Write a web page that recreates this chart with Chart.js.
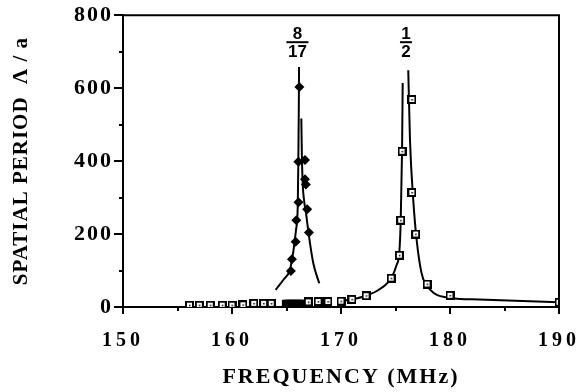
<!DOCTYPE html>
<html>
<head>
<title>Spatial period vs frequency</title>
<script src="https://cdn.jsdelivr.net/npm/chart.js"></script>
<style>
  body { margin: 0; background: #fff; }
</style>
</head>
<body>
<canvas id="periodChart" width="581" height="392"></canvas>
<script>
// 1/2 resonance, measured points (open squares)
var halfX = [156.1, 157.0, 158.0, 159.1, 160.0, 161.0, 162.0, 162.9, 163.6, 167.0, 167.9, 168.8, 170.0, 171.0, 172.3, 174.6, 175.35, 175.48, 175.6, 176.5, 176.5, 176.85, 177.9, 180.0, 190.0];
var halfY = [5, 5, 5, 5, 5, 6, 10, 10, 10, 14, 15, 15, 16, 21, 31, 79, 142, 238, 427, 569, 314, 200, 63, 32, 13];

// 8/17 resonance, measured points (filled diamonds)
var eightX = [166.18, 166.09, 166.7, 166.7, 166.78, 166.1, 166.9, 165.9, 165.84, 167.06, 165.5, 165.4];
var eightY = [603, 398, 403, 350, 336, 287, 268, 238, 179, 204, 131, 99];

// dense run of points along the floor under the 8/17 peak
var floorX = [164.9, 165.1, 165.3, 165.5, 165.7, 165.9, 166.1, 166.3, 166.5];
var floorY = [10, 10, 10, 10, 10, 10, 10, 10, 10];

// fitted curves
var halfLeftX = [170.0, 171.0, 172.3, 173.5, 174.6, 175.1, 175.35, 175.48, 175.6, 175.66];
var halfLeftY = [16, 21, 31, 48, 79, 115, 150, 238, 427, 614];
var halfRightX = [176.17, 176.33, 176.63, 176.94, 177.4, 178.2, 179.7, 182.0, 186.0, 190.0];
var halfRightY = [649, 457, 293, 184, 92, 47, 26, 21, 17, 13];
var eightLeftX = [164.0, 164.7, 165.3, 165.6, 165.87, 166.03, 166.08, 166.13, 166.15];
var eightLeftY = [47, 74, 101, 147, 211, 275, 384, 549, 658];
var eightRightX = [166.36, 166.42, 166.5, 166.62, 166.8, 166.95, 167.16, 167.46, 167.75, 168.01];
var eightRightY = [517, 400, 330, 290, 255, 220, 174, 120, 88, 65];

var xTickLabels = [150, 160, 170, 180, 190];
var yTickLabels = [0, 200, 400, 600, 800];

function toPoints(xs, ys) {
  var pts = [];
  for (var i = 0; i < xs.length; i++) {
    pts.push({ x: xs[i], y: ys[i] });
  }
  return pts;
}

// open square with a dot in the middle
var squareMark = document.createElement('canvas');
squareMark.width = 9;
squareMark.height = 9;
(function() {
  var c = squareMark.getContext('2d');
  c.fillStyle = '#fff';
  c.fillRect(0, 0, 9, 9);
  c.strokeStyle = '#000';
  c.lineWidth = 2;
  c.strokeRect(1, 1, 7, 7);
  c.fillStyle = '#000';
  c.fillRect(4, 4, 1.5, 1.5);
})();

function curve(xs, ys) {
  return {
    data: toPoints(xs, ys),
    showLine: true,
    borderColor: '#000',
    borderWidth: 2,
    pointRadius: 0,
    cubicInterpolationMode: 'monotone'
  };
}

// the old figure uses wide letter spacing, different per text
function spaced(scale, method, sp) {
  if (scale['_plain_' + method]) return;
  var orig = scale[method];
  scale['_plain_' + method] = orig;
  scale[method] = function() {
    var c = this.ctx;
    var prev = c.letterSpacing;
    c.letterSpacing = sp;
    orig.apply(this, arguments);
    c.letterSpacing = prev;
  };
}

var framePlugin = {
  id: 'frame',
  beforeDraw: function(chart) {
    spaced(chart.scales.x, 'drawLabels', '4px');
    spaced(chart.scales.x, 'drawTitle', '2px');
    spaced(chart.scales.y, 'drawLabels', '2px');
    spaced(chart.scales.y, 'drawTitle', '1px');
  },
  afterDraw: function(chart) {
    var ctx = chart.ctx;
    var a = chart.chartArea;
    var xs = chart.scales.x;
    var ys = chart.scales.y;
    ctx.save();
    ctx.strokeStyle = '#000';
    ctx.lineWidth = 2;
    ctx.beginPath();
    ctx.moveTo(a.left, a.top);
    ctx.lineTo(a.right, a.top);
    ctx.lineTo(a.right, a.bottom);
    // x ticks point down, y ticks point left
    for (var v = 150; v <= 190; v += 5) {
      var px = Math.round(xs.getPixelForValue(v));
      ctx.moveTo(px, a.bottom);
      ctx.lineTo(px, a.bottom + (v % 10 === 0 ? 7 : 4));
    }
    for (var w = 0; w <= 800; w += 100) {
      var py = Math.round(ys.getPixelForValue(w));
      ctx.moveTo(a.left, py);
      ctx.lineTo(a.left - (w % 200 === 0 ? 9 : 4), py);
    }
    ctx.stroke();

    // resonance fractions above the peaks
    var fracs = [
      { num: '8', den: '17', at: 166.0, bar: 11 },
      { num: '1', den: '2', at: 175.96, bar: 6 }
    ];
    ctx.fillStyle = '#000';
    ctx.font = 'bold 17px "Liberation Sans", Arial, sans-serif';
    ctx.textAlign = 'center';
    ctx.textBaseline = 'middle';
    fracs.forEach(function(f) {
      var cx = xs.getPixelForValue(f.at);
      ctx.fillText(f.num, cx, a.top + 19);
      ctx.fillText(f.den, cx, a.top + 37);
      ctx.fillRect(cx - f.bar, a.top + 26, f.bar * 2, 2);
    });
    ctx.restore();
  }
};

var serif = '"Liberation Serif", "Times New Roman", serif';

new Chart(document.getElementById('periodChart'), {
  type: 'scatter',
  data: {
    datasets: [
      {
        data: toPoints(halfX, halfY),
        pointStyle: squareMark,
        pointRadius: 5
      },
      {
        data: toPoints(eightX, eightY),
        pointStyle: 'rectRot',
        pointRadius: 5,
        backgroundColor: '#000',
        borderColor: '#000',
        borderWidth: 0
      },
      {
        data: toPoints(floorX, floorY),
        pointStyle: 'rect',
        pointRadius: 5,
        backgroundColor: '#000',
        borderColor: '#000',
        borderWidth: 0
      },
      curve(halfLeftX, halfLeftY),
      curve(halfRightX, halfRightY),
      curve(eightLeftX, eightLeftY),
      curve(eightRightX, eightRightY)
    ]
  },
  options: {
    responsive: false,
    animation: false,
    events: [],
    layout: { padding: { top: 15, right: 22, left: 0, bottom: 0 } },
    plugins: {
      legend: { display: false },
      tooltip: { enabled: false }
    },
    scales: {
      x: {
        type: 'linear',
        min: 150,
        max: 190,
        afterFit: function(s) { s.height = 85; },
        afterBuildTicks: function(s) {
          s.ticks = xTickLabels.map(function(v) { return { value: v }; });
        },
        ticks: {
          padding: 2,
          color: '#000',
          maxRotation: 0,
          font: { family: serif, weight: 'bold', size: 20 }
        },
        // invisible tick marks only push the labels away; real ticks are drawn by the plugin
        grid: { drawOnChartArea: false, drawTicks: true, tickLength: 20, tickColor: 'rgba(0,0,0,0)' },
        border: { color: '#000', width: 2 },
        title: {
          display: true,
          text: 'FREQUENCY (MHz)',
          color: '#000',
          font: { family: serif, weight: 'bold', size: 22 },
          padding: { top: 0, bottom: 1 }
        }
      },
      y: {
        min: 0,
        max: 800,
        afterFit: function(s) { s.width = 123; },
        afterBuildTicks: function(s) {
          s.ticks = yTickLabels.map(function(v) { return { value: v }; });
        },
        ticks: {
          padding: 2,
          color: '#000',
          font: { family: serif, weight: 'bold', size: 22 }
        },
        grid: { drawOnChartArea: false, drawTicks: true, tickLength: 8, tickColor: 'rgba(0,0,0,0)' },
        border: { color: '#000', width: 2 },
        title: {
          display: true,
          text: 'SPATIAL PERIOD  \u039B / a',
          color: '#000',
          font: { family: serif, weight: 'bold', size: 21 },
          padding: { top: 9, bottom: 0 }
        }
      }
    }
  },
  plugins: [framePlugin]
});
</script>
</body>
</html>
